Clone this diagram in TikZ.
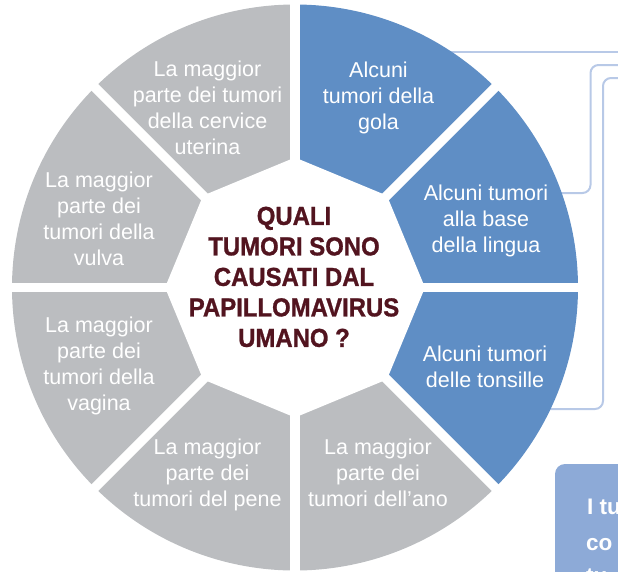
\documentclass[tikz,border=0pt]{standalone}
\usepackage{fontspec}
\setmainfont{Liberation Sans}
\newfontfamily\condfam[FakeStretch=0.92,BoldFeatures={FakeBold=1}]{Liberation Sans}
\usetikzlibrary{calc}
\definecolor{segGray}{HTML}{BBBDC0}
\definecolor{segBlue}{HTML}{5F8EC5}
\definecolor{connBlue}{HTML}{B8C9E7}
\definecolor{boxBlue}{HTML}{8DAAD7}
\definecolor{maroon}{HTML}{52141F}
\newcommand\zs{\rule[-5pt]{0pt}{21pt}}
\newcommand\zc{\rule{0pt}{18.6pt}}
\tikzset{
  segtext/.style={text=white,font=\fontsize{21.5}{26}\selectfont,align=center,inner sep=0pt},
  midtext/.style={text=maroon,font=\condfam\bfseries\fontsize{26}{30.5}\selectfont,align=center,inner sep=0pt},
  conn/.style={draw=connBlue,line width=2pt,rounded corners=8pt},
  gapline/.style={draw=white,line width=9.5pt},
  infobox/.style={fill=boxBlue,rounded corners=10pt},
  boxtext/.style={text=white,font=\bfseries\fontsize{22.5}{36}\selectfont,inner sep=0pt,anchor=base west}
}
\begin{document}
\begin{tikzpicture}[x=1pt,y=1pt]
\useasboundingbox (0,0) rectangle (618,-571);
\clip (0,0) rectangle (618,-571);
\coordinate (C) at (295,-287.5);
\def\R{283}
\def\Ri{130}
% connectors (behind the wheel)
\coordinate (c1s) at (440,-52);
\coordinate (c1e) at (625,-52);
\coordinate (c2s) at (550,-193);
\coordinate (c2a) at (590.5,-193);
\coordinate (c2b) at (590.5,-65);
\coordinate (c2e) at (625,-65);
\coordinate (c3s) at (540,-409);
\coordinate (c3a) at (603,-409);
\coordinate (c3b) at (603,-78);
\coordinate (c3e) at (625,-78);
\draw[conn] (c1s) -- (c1e);
\draw[conn] (c2s) -- (c2a) -- (c2b) -- (c2e);
\draw[conn] (c3s) -- (c3a) -- (c3b) -- (c3e);
% sectors
\foreach \a/\col in {0/segBlue,45/segBlue,90/segGray,135/segGray,180/segGray,225/segGray,270/segGray,315/segBlue}{
  \fill[\col] (C) -- ($(C)+(\a:\R)$) arc[start angle=\a,delta angle=45,radius=\R] -- cycle;
}
% gaps
\foreach \a in {0,45,90,135}{
  \draw[gapline] ($(C)+(\a:\R+2)$) -- ($(C)+(\a+180:\R+2)$);
}
% inner octagon
\fill[white] ($(C)+(0:\Ri)$) -- ($(C)+(45:\Ri)$) -- ($(C)+(90:\Ri)$) -- ($(C)+(135:\Ri)$) -- ($(C)+(180:\Ri)$) -- ($(C)+(225:\Ri)$) -- ($(C)+(270:\Ri)$) -- ($(C)+(315:\Ri)$) -- cycle;
% texts
\node[segtext] (cervice) at (207.5,-109.5) {\zs La maggior\\\zs parte dei tumori\\\zs della cervice\\\zs uterina};
\node[segtext] (vulva) at (99,-220.5) {\zs La maggior\\\zs parte dei\\\zs tumori della\\\zs vulva};
\node[segtext] (vagina) at (99,-365.5) {\zs La maggior\\\zs parte dei\\\zs tumori della\\\zs vagina};
\node[segtext] (pene) at (207.5,-474.5) {\zs La maggior\\\zs parte dei\\\zs tumori del pene};
\node[segtext] (ano) at (378,-475) {\zs La maggior\\\zs parte dei\\\zs tumori dell’ano};
\node[segtext] (tonsille) at (485,-368.5) {\zs Alcuni tumori\\\zs delle tonsille};
\node[segtext] (lingua) at (486,-220.5) {\zs Alcuni tumori\\\zs alla base\\\zs della lingua};
\node[segtext] (gola) at (378.5,-97.5) {\zs Alcuni\\\zs tumori della\\\zs gola};
\node[midtext] (question) at (294,-276.7) {\zc QUALI\\\zc TUMORI SONO\\\zc CAUSATI DAL\\\zc PAPILLOMAVIRUS\\\zc UMANO ?};
% box at bottom right
\fill[infobox] (555,-464) rectangle (740,-660);
\node[boxtext] (b1) at (587,-514) {I tu};
\node[boxtext] (b2) at (586,-550) {co};
\node[boxtext] (b3) at (586,-583) {tu};
\end{tikzpicture}
\end{document}
